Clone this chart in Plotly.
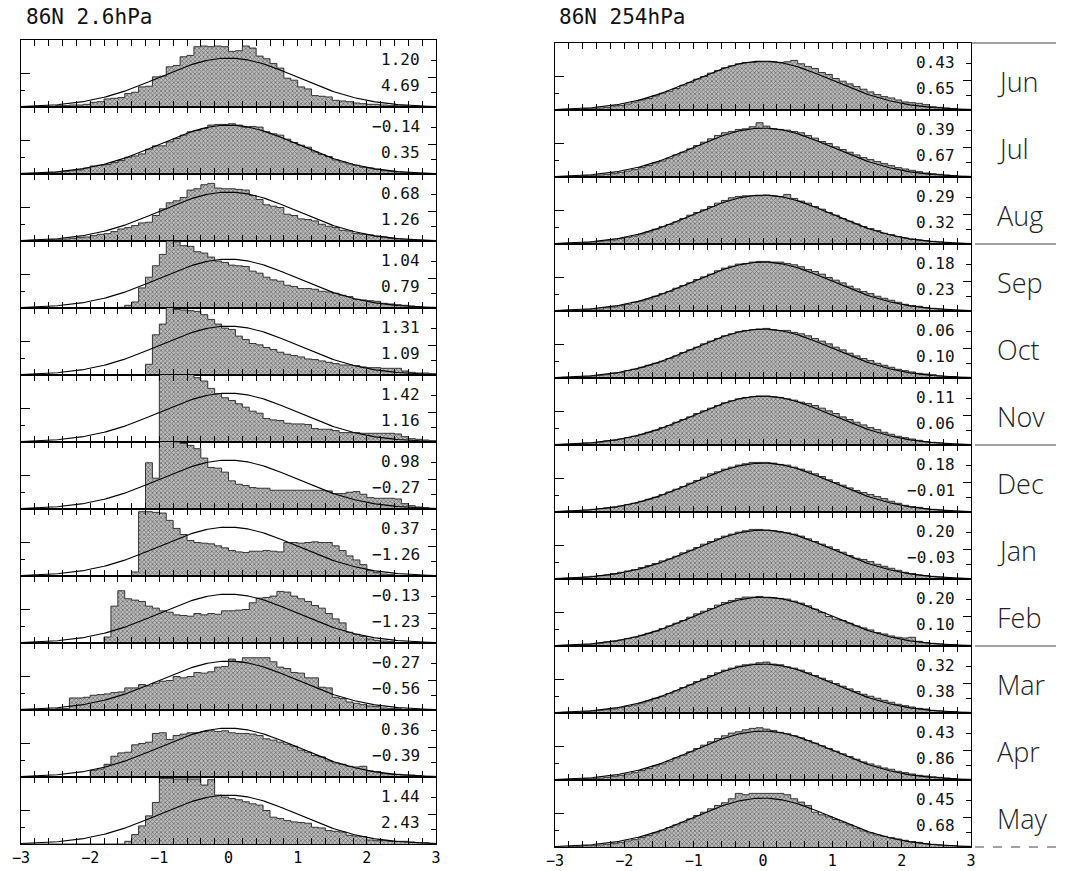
import numpy as np
import plotly.graph_objects as go

# ---------------- data ----------------
months = ["Jun", "Jul", "Aug", "Sep", "Oct", "Nov", "Dec", "Jan", "Feb", "Mar", "Apr", "May"]
x_tick_vals = [-3, -2, -1, 0, 1, 2, 3]
bin_width = 0.1
n_obs = 1830  # samples per month (normal curve scaling)

# histogram counts per 0.1 bin, bins from -3.0 to 3.0 ; 86N 2.6 hPa
h2_jun = [0,0,1,1,1,2,2,3,3,4, 7,8,12,13,14,20,22,30,31,45, 46,60,62,75,77,90,91,90,91,90,
          83,84,91,88,76,72,65,58,43,40, 30,27,17,16,15,10,9,8,6,5, 4,4,3,2,2,2,1,1,0,0]
h2_jul = [1,1,1,2,2,3,4,5,6,9, 12,13,14,17,20,25,27,30,37,42, 42,48,53,58,63,65,68,73,74,74,
          75,73,70,71,70,63,60,58,52,47, 43,40,33,29,26,21,18,15,13,10, 9,7,5,4,3,2,2,1,1,0]
h2_aug = [0,1,1,1,2,2,3,4,5,6, 8,10,11,14,18,20,23,27,28,38, 48,57,60,65,76,78,84,86,79,78,
          78,77,76,68,62,54,52,50,40,38, 33,32,30,25,22,20,16,15,11,10, 9,7,6,4,3,2,2,1,1,0]
h2_sep = [0]*14 + [1,4, 9,30,46,63,80,100,99,93,92,84, 82,76,70,68,64,63,62,55,52,46,
          42,40,34,32,29,29,28,25,24,22, 19,17,13,12,11,10,7,6,5,4, 3,2,1,1]
h2_oct = [0]*18 + [16,60,76,105,98,97,96,95,90,83, 76,70,68,58,53,47,45,41,38,34,
          31,29,27,24,23,21,19,17,15,15, 14,12,11,11,10,10,10,6,4,3, 3,2]
h2_nov = [0]*20 + [130,120,115,108,102,96,91,80,72,66, 62,57,52,46,43,35,33,32,28,27,
          27,26,20,19,19,17,14,14,14,13, 13,13,13,13,12,8,5,4,3,2]
h2_dec = [0]*18 + [69,46,110,105,100,98,95,90,76,62, 61,55,42,37,35,32,31,31,28,28,
          28,28,28,28,28,28,27,23,23,25, 26,22,17,16,16,16,15,8,5,3, 2,1]
h2_jan = [0]*16 + [6,96,96,95,94,83,71,62,53,50, 49,48,45,42,38,36,35,37,37,38,
          37,36,50,50,49,50,51,50,50,45, 38,30,24,17,8,5,3,2,1,1, 0,0,0,0]
h2_feb = [0]*12 + [9,55,78,66,64,62,55,52,48,46, 42,41,40,44,42,44,43,48,48,49,
          50,60,67,68,70,77,76,70,66,62, 56,52,44,36,30,16,13,10,6,4, 3,2,1,1,0,0,0,0]
h2_mar = [1,1,1,1,1,2,2, 18,18,19,22,23,24,26,27,33,33, 38,36,40,43,44,50,48,50,56,55,
          57,64,65,76,72,78,78,78,78,72, 64,62,56,55,48,48,34,33,19,17,
          12,10,8,6,5,3,2,2,1,1, 0,0,0]
h2_apr = [0]*10 + [10,12,19,31,36,37,48,50,52,65, 66,56,62,64,66,66,68,69,68,69,
          66,65,65,64,62,57,55,52,49,46, 40,37,32,30,24,21,19,16,15,16, 9,8,5,4,4,3,3,2,1,1]
h2_may = [0]*15 + [4,14,27,42,62,98,98,97,97,97, 97,88,96,73,70,68,66,63,60,58,
          50,40,38,35,33,32,31,25,24,20, 19,18,13,12,11,6,5,5,4,4, 4,3,2,2,1]

# 86N 254 hPa
h254_jun = [0,1,1,1,2,2,3,4,6,7, 9,12,15,17,21,25,28,32,37,41, 46,50,55,59,63,66,69,71,71,72,
            72,72,71,72,74,69,65,62,56,53, 47,43,39,35,31,27,23,20,18,15, 12,11,10,8,5,4,3,2,1,1]
h254_jul = [0,0,1,1,2,2,3,4,5,7, 9,11,14,17,21,24,28,33,37,42, 47,52,57,62,66,68,71,72,75,81,
            76,72,71,70,68,66,62,58,53,50, 45,41,37,33,29,26,23,20,17,14, 12,10,8,6,5,4,3,2,1,1]
h254_aug = [0,1,1,1,2,3,4,5,6,8, 10,12,15,18,22,26,29,33,38,43, 47,51,56,61,65,69,71,72,72,72,
            73,72,71,74,68,64,61,56,52,47, 43,38,34,30,26,23,20,16,14,11, 9,7,6,5,4,3,2,1,1,0]
h254_sep = [0,1,1,1,2,3,3,5,6,8, 10,13,15,18,22,26,29,34,38,42, 47,51,55,60,64,67,70,71,73,74,
            74,73,73,71,69,66,62,59,55,50, 46,42,37,33,29,26,22,19,16,13, 10,8,7,5,4,3,2,1,1,0]
h254_oct = [0,1,1,2,2,3,4,5,7,8, 11,13,16,19,22,25,29,33,38,42, 46,51,55,59,63,66,69,71,72,73,
            74,72,71,71,68,66,63,59,55,51, 46,42,37,33,29,26,22,19,16,13, 11,9,7,6,5,3,2,2,1,1]
h254_nov = [0,1,1,2,3,3,4,6,7,9, 11,13,16,19,22,26,29,34,38,42, 47,51,55,59,63,66,69,71,72,73,
            73,72,71,69,67,64,62,59,55,51, 47,42,38,34,30,26,23,19,16,13, 11,9,7,5,4,3,2,1,1,0]
h254_dec = [0,1,1,2,3,4,5,6,7,9, 11,13,16,19,22,26,30,34,38,43, 47,52,57,60,64,67,70,72,74,74,
            74,73,71,70,67,64,61,57,53,48, 44,40,36,32,29,26,23,20,16,13, 10,8,7,5,4,3,2,1,1,0]
h254_jan = [0,1,1,2,3,4,5,6,8,10, 12,14,17,20,23,27,30,34,39,43, 47,52,56,60,64,67,70,72,74,74,
            73,72,70,69,67,64,60,56,52,48, 44,40,35,31,29,26,22,19,16,13, 10,8,6,5,4,3,2,1,1,0]
h254_feb = [0,1,1,2,2,3,4,6,7,9, 11,13,16,19,22,26,30,34,38,43, 48,52,56,61,65,68,71,73,73,74,
            72,72,71,70,67,64,60,55,50,44, 40,38,34,30,27,24,20,18,15,13, 12,13,7,5,4,3,2,2,1,1]
h254_mar = [0,1,1,1,2,3,4,5,6,8, 10,12,15,18,22,25,29,33,38,42, 47,51,56,60,64,67,70,72,73,75,
            76,73,72,69,67,64,60,56,52,48, 44,40,36,32,28,25,22,19,16,13, 11,9,7,6,4,3,2,2,1,1]
h254_apr = [0,0,1,1,2,2,3,4,5,7, 9,11,14,17,21,24,28,33,37,42, 47,52,57,62,66,70,72,75,77,78,
            76,74,71,69,66,63,59,55,51,47, 43,39,35,31,27,24,21,18,16,13, 11,9,7,6,5,4,3,2,1,1]
h254_may = [0,0,1,1,2,2,3,4,5,7, 9,11,14,17,21,25,29,33,37,42, 47,52,57,62,66,72,80,78,80,80,
            80,80,80,78,72,67,62,52,48,45, 41,37,33,28,24,21,18,16,14,12, 10,8,7,5,4,3,2,2,1,1]

skew_2p6 = [1.20, -0.14, 0.68, 1.04, 1.31, 1.42, 0.98, 0.37, -0.13, -0.27, 0.36, 1.44]
kurt_2p6 = [4.69, 0.35, 1.26, 0.79, 1.09, 1.16, -0.27, -1.26, -1.23, -0.56, -0.39, 2.43]
skew_254 = [0.43, 0.39, 0.29, 0.18, 0.06, 0.11, 0.18, 0.20, 0.20, 0.32, 0.43, 0.45]
kurt_254 = [0.65, 0.67, 0.32, 0.23, 0.10, 0.06, -0.01, -0.03, 0.10, 0.38, 0.86, 0.68]

hists_2p6 = [h2_jun, h2_jul, h2_aug, h2_sep, h2_oct, h2_nov, h2_dec, h2_jan, h2_feb, h2_mar, h2_apr, h2_may]
hists_254 = [h254_jun, h254_jul, h254_aug, h254_sep, h254_oct, h254_nov, h254_dec, h254_jan,
             h254_feb, h254_mar, h254_apr, h254_may]
for h in hists_2p6 + hists_254:
    assert len(h) == 60, len(h)

# ---------------- layout geometry (pixels) ----------------
W, H = 1065, 871
PANEL_H = 67
columns = [
    dict(title="86N 2.6hPa", hists=hists_2p6, skew=skew_2p6, kurt=kurt_2p6, x0=21, x1=436, top=40, tx=24),
    dict(title="86N 254hPa", hists=hists_254, skew=skew_254, kurt=kurt_254, x0=555, x1=971, top=43, tx=557),
]

edges = np.round(np.arange(-3.0, 3.0 + 1e-9, bin_width), 1)
xc = np.linspace(-3, 3, 241)
gauss = n_obs * bin_width * np.exp(-xc ** 2 / 2) / np.sqrt(2 * np.pi)

MONO = "DejaVu Sans Mono"
fig = go.Figure()
layout = {}
annotations = []
shapes = []


def fmt(v):
    return f"{v:.2f}".replace("-", "\u2212")


n = 0
for ci, col in enumerate(columns):
    for k in range(12):
        n += 1
        m = n + 24
        xname = "xaxis" if n == 1 else f"xaxis{n}"
        yname = "yaxis" if n == 1 else f"yaxis{n}"
        y2name = f"yaxis{m}"
        xref = "x" if n == 1 else f"x{n}"
        yref = "y" if n == 1 else f"y{n}"
        y2ref = f"y{m}"
        top = col["top"] + k * PANEL_H
        bot = top + PANEL_H
        dom_x = [col["x0"] / W, col["x1"] / W]
        dom_y = [1 - bot / H, 1 - top / H]
        bottom = (k == 11)

        layout[xname] = dict(
            domain=dom_x, range=[-3, 3], anchor=yref, showgrid=False, zeroline=False,
            showline=True, linecolor="black", linewidth=1.3, mirror="allticks",
            ticks="inside", tickvals=x_tick_vals, ticklen=6, tickwidth=1, tickcolor="black",
            minor=dict(ticks="inside", dtick=0.2, tick0=-3, ticklen=3, tickcolor="black", tickwidth=1),
            showticklabels=bottom, tickfont=dict(family=MONO, size=15, color="black"),
            fixedrange=True, automargin=False,
        )
        layout[yname] = dict(
            domain=dom_y, range=[0, 100], anchor=xref, showgrid=False, zeroline=False,
            showline=True, linecolor="black", linewidth=1.3, mirror=True,
            ticks="inside", tickvals=[50], ticklen=9, tickwidth=1, tickcolor="black",
            minor=dict(ticks="inside", tickvals=[25], ticklen=4, tickcolor="black", tickwidth=1),
            showticklabels=False, fixedrange=True, automargin=False,
        )
        layout[y2name] = dict(
            range=[0, 100], overlaying=yref, side="right", anchor=xref, showgrid=False,
            zeroline=False, showline=False, ticks="inside", tickvals=[44], ticklen=8,
            tickwidth=1, tickcolor="black",
            minor=dict(ticks="inside", tickvals=[21, 70], ticklen=5, tickcolor="black", tickwidth=1),
            showticklabels=False, fixedrange=True, automargin=False,
        )

        counts = col["hists"][k]
        fig.add_trace(go.Scatter(
            x=edges, y=list(counts) + [counts[-1]], mode="lines", line_shape="hv",
            line=dict(color="#222222", width=0.9), fill="tozeroy", fillcolor="#b0b0b0",
            fillpattern=dict(shape="x", fgcolor="#202020", bgcolor="#bcbcbc", size=3, solidity=0.45),
            xaxis=xref, yaxis=yref, hoverinfo="skip", showlegend=False,
        ))
        fig.add_trace(go.Scatter(
            x=xc, y=gauss, mode="lines", line=dict(color="black", width=1.1),
            xaxis=xref, yaxis=y2ref, hoverinfo="skip", showlegend=False,
        ))

        for val, yy in ((col["skew"][k], 71), (col["kurt"][k], 32)):
            annotations.append(dict(
                x=2.8, y=yy, xref=xref, yref=yref, text=fmt(val), showarrow=False,
                xanchor="right", yanchor="middle",
                font=dict(family=MONO, size=16, color="#111"),
            ))

        if ci == 1:
            annotations.append(dict(
                x=995 / W, y=1 - (top + PANEL_H / 2 + 5) / H, xref="paper", yref="paper",
                text=months[k], showarrow=False, xanchor="left", yanchor="middle",
                font=dict(family="Open Sans", size=27, color="#222", weight=300),
            ))

    annotations.append(dict(
        x=col["tx"] / W, y=1 - 17 / H, xref="paper", yref="paper", text=col["title"],
        showarrow=False, xanchor="left", yanchor="middle",
        font=dict(family=MONO, size=21, color="#111"),
    ))

# season separators on the right of the 254 hPa column
for j, yy in enumerate([43, 244, 445, 646, 847]):
    shapes.append(dict(
        type="line", xref="paper", yref="paper", x0=(971 if j == 0 else 975) / W, x1=1056 / W,
        y0=1 - yy / H, y1=1 - yy / H,
        line=dict(color="#444", width=1, dash="dash" if j == 4 else "solid"),
    ))

fig.update_layout(
    width=W, height=H, margin=dict(l=0, r=0, t=0, b=0, autoexpand=False),
    paper_bgcolor="white", plot_bgcolor="white", showlegend=False,
    annotations=annotations, shapes=shapes, **layout,
)

fig.write_html(
    "out.html",
    config={"displayModeBar": False},
    post_script="document.body.style.margin='0';document.body.style.padding='0';"
                "document.body.style.overflow='hidden';",
)
